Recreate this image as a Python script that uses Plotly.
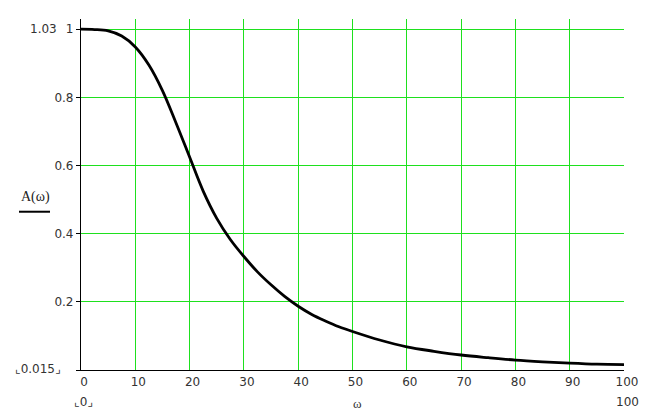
import plotly.graph_objects as go

# data
omega = [0, 2.5, 5, 7.5, 10, 12.5, 15, 17.5, 20, 22.5, 25, 27.5, 30, 32.5, 35,
         37.5, 40, 42.5, 45, 47.5, 50, 55, 60, 65, 70, 75, 80, 85, 90, 95, 100]
A_vals = [1.0, 0.999, 0.995, 0.98, 0.948, 0.895, 0.82, 0.725, 0.625, 0.525,
          0.445, 0.383, 0.333, 0.288, 0.25, 0.216, 0.187, 0.163, 0.144, 0.127,
          0.113, 0.088, 0.068, 0.055, 0.044, 0.036, 0.029, 0.024, 0.020,
          0.017, 0.016]

x_ticks = [0, 10, 20, 30, 40, 50, 60, 70, 80, 90, 100]
y_ticks = [0, 0.2, 0.4, 0.6, 0.8, 1.0]
y_tick_text = ["", "0.2", "0.4", "0.6", "0.8", "1"]

GREEN = "#1ee01e"
TICKFONT = dict(family="DejaVu Sans", size=12, color="#333333")

# page has an 8px body margin; figure is sized so the plot lands in place
OFF = 8
PAGE_W, PAGE_H = 656, 412
W, H = PAGE_W - OFF, PAGE_H - OFF
L, R = 81 - OFF, PAGE_W - 624
T, B = 19 - OFF, PAGE_H - 370.5

fig = go.Figure()
fig.add_trace(go.Scatter(
    x=omega, y=A_vals, mode="lines",
    line=dict(color="black", width=2.8, shape="spline", smoothing=1.0),
    showlegend=False, hoverinfo="skip"))

fig.update_layout(
    width=W, height=H,
    margin=dict(l=L, r=R, t=T, b=B, autoexpand=False),
    paper_bgcolor="white", plot_bgcolor="white",
    xaxis=dict(range=[0, 100], tickvals=x_ticks, ticks="",
               showgrid=True, gridcolor=GREEN, gridwidth=1,
               showline=True, linecolor="black", linewidth=1.2,
               zeroline=False, tickfont=TICKFONT, ticklabelshift=3,
               ticklabelstandoff=0, automargin=False),
    yaxis=dict(range=[0, 1.03], tickvals=y_ticks, ticktext=y_tick_text,
               ticks="outside", ticklen=4, tickcolor="black",
               showgrid=True, gridcolor=GREEN, gridwidth=1,
               showline=True, linecolor="black", linewidth=1.2,
               zeroline=False, tickfont=TICKFONT, ticklabelstandoff=0,
               automargin=False),
)

# convert page pixel positions to paper coordinates
def px(xp):
    return (xp - OFF - L) / (W - L - R)

def py(yp):
    return 1 - (yp - OFF - T) / (H - T - B)

ann_font = dict(family="DejaVu Sans", size=12, color="#333333")
annotations = [
    dict(text="1.03", x=px(43), y=py(29)),
    dict(text="⌞0.015⌟", x=px(38), y=py(369)),
    dict(text="⌞0⌟", x=px(83), y=py(403)),
    dict(text="100", x=px(627), y=py(403)),
]
for a in annotations:
    fig.add_annotation(xref="paper", yref="paper", showarrow=False,
                       xanchor="center", yanchor="middle", font=ann_font, **a)

fig.add_annotation(xref="paper", yref="paper", showarrow=False,
                   text="ω", x=px(357), y=py(404), xanchor="center",
                   yanchor="middle",
                   font=dict(family="Liberation Serif", size=13, color="#333333"))
fig.add_annotation(xref="paper", yref="paper", showarrow=False,
                   text="A(ω)", x=px(35), y=py(197), xanchor="center",
                   yanchor="middle",
                   font=dict(family="Liberation Serif", size=14, color="#222222"))
fig.add_shape(type="line", xref="paper", yref="paper",
              x0=px(19), x1=px(50), y0=py(212), y1=py(212),
              line=dict(color="black", width=2))

fig.write_html("out.html")
